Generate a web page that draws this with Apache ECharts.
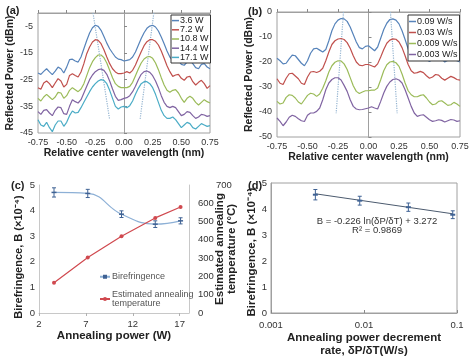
<!DOCTYPE html>
<html><head><meta charset="utf-8">
<script src="https://cdn.jsdelivr.net/npm/echarts@6/dist/echarts.min.js"></script>
<style>html,body{margin:0;padding:0;background:#fff}#c{width:474px;height:360px}</style>
</head><body><div id="c"></div>
<script>
// ---------- DATA ----------
const wl = [-0.75,-0.725,-0.7,-0.675,-0.65,-0.625,-0.6,-0.575,-0.55,-0.525,-0.5,-0.475,-0.45,-0.425,-0.4,-0.375,-0.35,-0.325,-0.3,-0.275,-0.25,-0.225,-0.2,-0.175,-0.15,-0.125,-0.1,-0.075,-0.05,-0.025,0,
 0.025,0.05,0.075,0.1,0.125,0.15,0.175,0.2,0.225,0.25,0.275,0.3,0.325,0.35,0.375,0.4,0.425,0.45,0.475,0.5,0.525,0.55,0.575,0.6,0.625,0.65,0.675,0.7,0.725,0.75];

// Panel (a): annealing power
const namesA = ['3.6 W','7.2 W','10.8 W','14.4 W','17.1 W'];
const a36 = [-22.5,-23,-21.9,-20.9,-22.1,-23.1,-21.8,-20.3,-20.9,-22.5,-20.3,-17.5,-17.3,-18,-18.4,-16.5,-13.4,-10.3,-7.5,-5.5,-4.6,-5,-6.5,-8.8,-11.3,-13.4,-15,-16.5,-17.3,-17.5,-18,
 -17.75,-17.5,-16.5,-14.6,-12.1,-9.6,-7.4,-5.75,-4.9,-4.6,-5.25,-6.75,-9,-11.5,-14.25,-16.5,-17.75,-17.5,-17.75,-19.25,-19.6,-18.4,-17.75,-19,-20.5,-20.9,-19.25,-19,-20.25,-20.9];
const a72 = [-28,-28.6,-26.25,-25.5,-26.5,-28,-26.25,-24.6,-25.5,-27.75,-26.75,-23.4,-22.75,-23.4,-24,-22.1,-19,-15.25,-12.75,-10.9,-10,-10.25,-11.5,-13.75,-16.5,-19,-20.9,-22.1,-22.75,-22.75,-22.5,
 -22,-22.5,-21.5,-19.5,-17,-14.5,-12.25,-10.75,-10,-10,-10.6,-12,-14.25,-17,-19.75,-22,-23.75,-23.25,-23,-24.5,-25.25,-24,-23.75,-25.75,-27,-26,-25.25,-26.5,-28.25,-27.25];
const a108 = [-32,-33,-31.5,-30.5,-31.5,-32.5,-31.5,-29.75,-30,-32,-31,-29,-28,-28.75,-29.5,-28.5,-26.5,-23.5,-20.5,-18.25,-16.75,-15.75,-15.75,-16.75,-18.75,-21.5,-24.25,-26.5,-27.5,-28,-28,
 -28,-27.5,-26,-23.5,-21,-18.75,-17.25,-16.5,-16.3,-17,-18.75,-21.25,-24.25,-27,-29,-29.75,-29,-28.75,-30,-32,-33.5,-32,-31.25,-32,-33.5,-34.5,-33.5,-32.5,-33.25,-33.75];
const a144 = [-37,-38,-36.5,-36.25,-37.5,-38.5,-36.5,-35.25,-35.5,-37.75,-38,-35,-32.5,-33.25,-33.75,-32.5,-30,-27.5,-25,-23.25,-22,-21.25,-21,-21.5,-23,-25.5,-28.5,-31.25,-32.75,-32.5,-32,
 -31.75,-31,-29.5,-27.5,-25,-23,-22,-21.75,-22.25,-23.5,-25.5,-28,-31,-33.5,-35,-35.5,-35,-35.5,-37,-38.5,-38,-37,-37.25,-38.5,-39.5,-39,-38,-38.25,-38.75,-38.5];
const a171 = [-40,-42,-42.5,-41,-43,-44.5,-42,-40.5,-40.5,-42.5,-41,-38.5,-36.75,-37.5,-37.25,-35.5,-33.5,-31.5,-29.5,-27.75,-26.5,-25.5,-25,-25.25,-26.5,-29,-32,-35,-36,-35.25,-35,
 -35.5,-34.75,-33,-30.5,-28.25,-26.5,-25.75,-25.75,-26.5,-28,-30.5,-33.5,-36.5,-38.5,-39.5,-39.5,-39,-40,-41.5,-43,-42,-41,-41.5,-43,-43.5,-42.5,-41.5,-42,-42.5,-42.25];
const traceA_left = [[-0.27, 0], [-0.125, -40]];
const traceA_right = [[0.26, 0], [0.14, -40]];

// Panel (b): annealing power decrement rate
const namesB = ['0.09 W/s','0.03 W/s','0.009 W/s','0.003 W/s'];
const b009 = [-18.5,-19.5,-20.75,-20.5,-18.75,-17.25,-17.5,-19,-20.5,-21.5,-19.5,-16.5,-14.75,-14.5,-15.25,-16,-15,-11.5,-7.5,-4.75,-3.25,-2.6,-2.75,-3.75,-6,-9,-12,-14.25,-14.75,-13.75,-13.5,
 -14.5,-15.5,-14,-10.5,-7,-4.5,-3,-2.75,-3.25,-4.75,-7.5,-11,-14.75,-17.25,-18.25,-17.75,-17,-17.5,-19,-19.75,-19,-17.75,-17.5,-18.75,-20,-19.25,-18,-18.25,-19.5,-20];
const b003 = [-26.7,-28.5,-29,-26.5,-24.7,-24.5,-25.6,-26.7,-28.5,-29,-26,-24,-23.8,-24.2,-23.7,-22.5,-19.5,-16,-13,-11.5,-10.8,-10.6,-11,-12.25,-14.5,-17.5,-20,-21.25,-21.5,-21,-21,
 -21.5,-22,-20.75,-18,-15,-12.5,-11.25,-10.75,-10.9,-12,-14.25,-17.5,-21,-23.5,-24.5,-24.25,-23.75,-24.25,-25.5,-26.5,-26,-25,-25.25,-26.5,-27.25,-26.5,-25.75,-26.25,-27,-27.25];
const b0009 = [-35.75,-36.8,-36.4,-34.15,-33.1,-33.35,-34.4,-36,-36.8,-35.1,-33.35,-32.5,-32.8,-33.75,-32.8,-30.5,-27.5,-24,-21.5,-20.1,-19.5,-19.6,-20.75,-23,-26.25,-29.5,-31.75,-32.6,-32,-31.5,-31.5,
 -31.25,-31.25,-30.4,-27.1,-23.5,-21.1,-20,-19.75,-20.3,-21.75,-24.8,-28.4,-31.5,-33.1,-33.9,-33.9,-33.35,-33.1,-34.4,-36,-37.1,-36.8,-35.75,-35.5,-36.4,-37.35,-37.1,-36.15,-36.8,-37.75];
const b0003 = [-42.4,-43.75,-45.5,-44,-42.1,-41.3,-41.75,-42.7,-43.5,-43.8,-41.3,-40.4,-40.4,-39.75,-38.4,-35.1,-31.1,-28.4,-27,-26.3,-26.3,-27.2,-29.35,-31.75,-35.1,-37.75,-38.8,-39.1,-39,-38.7,-38.4,
 -37.9,-38.4,-38.8,-35.75,-32.4,-29.75,-28,-27,-26.7,-27.2,-28.4,-31.1,-34.4,-37.75,-40.4,-41.75,-41.3,-41.1,-42.1,-43.1,-43.75,-43.5,-43.1,-43.35,-44,-43.5,-43,-43.2,-43.75,-43.5];
const traceB_left = [[-0.205, 0], [-0.265, -40.5]];
const traceB_right = [[0.18, 0], [0.235, -40.5]];

// Panel (c): birefringence and temperature vs annealing power
const powerC = [3.6, 7.2, 10.8, 14.4, 17.1];
const biref = [4.71, 4.67, 3.86, 3.47, 3.6];
const birefErr = [0.18, 0.16, 0.13, 0.13, 0.12];
const tempC = [165, 303, 420, 520, 580];

// Panel (d): birefringence vs decrement rate (log)
const rateD = [0.003, 0.009, 0.03, 0.09];
const birefD = [4.55, 4.32, 4.07, 3.78];
const birefDErr = [0.2, 0.17, 0.16, 0.15];
const trendX = [0.003, 0.09];
const trendY = [4.585, 3.816];

// ---------- CHART ----------
const FONT = 'Liberation Sans, Arial, sans-serif';
const colsA = ['#5683ba','#c0504d','#9bbb59','#8064a2','#4bacc6'];
const colsB = ['#5683ba','#c0504d','#9bbb59','#8064a2'];
const pairs = arr => wl.map((x, i) => [x, arr[i]]);
const lbl = {fontFamily: FONT, fontSize: 9, color: '#333'};
const ttl = {fontFamily: FONT, fontSize: 10.5, fontWeight: 'bold', color: '#222'};

function errRender(color) {
  return function (params, api) {
    const x = api.value(0), lo = api.value(1), hi = api.value(2);
    const p1 = api.coord([x, hi]), p2 = api.coord([x, lo]);
    const w = 2;
    const st = {stroke: color, lineWidth: 1};
    return {type: 'group', children: [
      {type: 'line', shape: {x1: p1[0], y1: p1[1], x2: p2[0], y2: p2[1]}, style: st},
      {type: 'line', shape: {x1: p1[0]-w, y1: p1[1], x2: p1[0]+w, y2: p1[1]}, style: st},
      {type: 'line', shape: {x1: p2[0]-w, y1: p2[1], x2: p2[0]+w, y2: p2[1]}, style: st}
    ]};
  };
}

const seriesA = [a36, a72, a108, a144, a171].map((d, i) => ({
  name: namesA[i], type: 'line', xAxisIndex: 0, yAxisIndex: 0, data: pairs(d),
  symbol: 'none', lineStyle: {width: 1.2, color: colsA[i]}, itemStyle: {color: colsA[i]}, z: 3
}));
const seriesB = [b009, b003, b0009, b0003].map((d, i) => ({
  name: namesB[i], type: 'line', xAxisIndex: 1, yAxisIndex: 1, data: pairs(d),
  symbol: 'none', lineStyle: {width: 1.2, color: colsB[i]}, itemStyle: {color: colsB[i]}, z: 3
}));
const dotted = (data, xi, yi) => ({type: 'line', xAxisIndex: xi, yAxisIndex: yi, data: data, symbol: 'none', silent: true,
  lineStyle: {type: 'dotted', width: 1.2, color: '#93b3d0'}, z: 2});

const birefColor = '#8db0d6', birefDark = '#3f6294', redC = '#d0494f';

const option = {
  animation: false,
  textStyle: {fontFamily: FONT},
  grid: [
    {left: 38, top: 13, width: 172, height: 120, show: true, borderColor: '#a0a0a0', borderWidth: 1},
    {left: 277, top: 12, width: 183, height: 125, show: true, borderColor: '#a0a0a0', borderWidth: 1},
    {left: 39, top: 185, width: 150, height: 128},
    {left: 271, top: 183, width: 186, height: 130, show: true, borderColor: '#a0a0a0', borderWidth: 1}
  ],
  xAxis: [
    {gridIndex: 0, type: 'value', min: -0.75, max: 0.75, interval: 0.25,
     axisLine: {lineStyle: {color: '#a0a0a0'}}, axisTick: {inside: true, length: 3, lineStyle: {color: '#888'}},
     axisLabel: Object.assign({margin: 5, formatter: v => v.toFixed(2)}, lbl), splitLine: {show: false},
     name: 'Relative center wavelength (nm)', nameLocation: 'middle', nameGap: 14, nameTextStyle: ttl},
    {gridIndex: 1, type: 'value', min: -0.75, max: 0.75, interval: 0.25,
     axisLine: {lineStyle: {color: '#a0a0a0'}}, axisTick: {inside: true, length: 3, lineStyle: {color: '#888'}},
     axisLabel: Object.assign({margin: 5, formatter: v => v.toFixed(2)}, lbl), splitLine: {show: false},
     name: 'Relative center wavelength (nm)', nameLocation: 'middle', nameGap: 14, nameTextStyle: ttl},
    {gridIndex: 2, type: 'value', min: 2, max: 18, interval: 5,
     axisLine: {lineStyle: {color: '#c8c8c8'}}, axisTick: {inside: false, length: 3, lineStyle: {color: '#b0b0b0'}},
     axisLabel: Object.assign({margin: 6, showMaxLabel: false}, lbl, {fontSize: 9.5}), splitLine: {show: false},
     name: 'Annealing power (W)', nameLocation: 'middle', nameGap: 15, nameTextStyle: Object.assign({}, ttl, {fontSize: 11.5})},
    {gridIndex: 3, type: 'log', logBase: 10, min: 0.001, max: 0.1,
     axisLine: {lineStyle: {color: '#a0a0a0'}}, axisTick: {inside: true, length: 3, lineStyle: {color: '#888'}},
     axisLabel: Object.assign({margin: 7, formatter: v => String(parseFloat(v.toPrecision(3)))}, lbl, {fontSize: 9.5}),
     splitLine: {show: false}, minorTick: {show: false},
     name: 'Annealing power decrement\nrate, δP/δT(W/s)', nameLocation: 'middle', nameGap: 13,
     nameTextStyle: Object.assign({}, ttl, {fontSize: 11.5, lineHeight: 13})}
  ],
  yAxis: [
    {gridIndex: 0, type: 'value', min: -45, max: 0, interval: 10,
     axisLine: {lineStyle: {color: '#a0a0a0'}}, axisTick: {inside: true, length: 3, lineStyle: {color: '#888'}},
     axisLabel: Object.assign({margin: 5, showMaxLabel: false}, lbl), splitLine: {show: false},
     name: 'Reflected Power (dBm)', nameLocation: 'middle', nameGap: 22, nameTextStyle: ttl},
    {gridIndex: 1, type: 'value', min: -50, max: 0, interval: 10,
     axisLine: {lineStyle: {color: '#a0a0a0'}}, axisTick: {inside: true, length: 3, lineStyle: {color: '#888'}},
     axisLabel: Object.assign({margin: 5}, lbl), splitLine: {show: false},
     name: 'Reflected Power (dBm)', nameLocation: 'middle', nameGap: 21, nameTextStyle: ttl},
    {gridIndex: 2, type: 'value', min: 0, max: 5, interval: 1,
     axisLine: {show: true, lineStyle: {color: '#c8c8c8'}}, axisTick: {show: false},
     axisLabel: Object.assign({margin: 4}, lbl, {fontSize: 9.5}), splitLine: {show: false},
     name: 'Birefringence, B (×10⁻⁴)', nameLocation: 'middle', nameGap: 15,
     nameTextStyle: Object.assign({}, ttl, {fontSize: 11, padding: [0, 16, 0, 0]})},
    {gridIndex: 2, type: 'value', min: 0, max: 700, interval: 100, position: 'right',
     axisLine: {show: true, lineStyle: {color: '#c8c8c8'}}, axisTick: {show: false},
     axisLabel: Object.assign({margin: 9, formatter: v => v === 700 ? '{s|700}' : String(v),
       rich: {s: {padding: [0, 0, 0, 18], fontSize: 9.5, color: '#333', fontFamily: FONT}}}, lbl, {fontSize: 9.5}),
     splitLine: {show: false},
     name: 'Estimated annealing\ntemperature (°C)', nameLocation: 'middle', nameGap: 25, nameMoveOverlap: false,
     nameTextStyle: Object.assign({}, ttl, {fontSize: 11.5, lineHeight: 12})},
    {gridIndex: 3, type: 'value', min: 0, max: 5, interval: 1,
     axisLine: {lineStyle: {color: '#a0a0a0'}}, axisTick: {show: false},
     axisLabel: Object.assign({margin: 4}, lbl, {fontSize: 9.5}), splitLine: {show: false},
     name: 'Birefringence, B (×10⁻⁴)', nameLocation: 'middle', nameGap: 12,
     nameTextStyle: Object.assign({}, ttl, {fontSize: 11.5, padding: [0, 8, 0, 0]})}
  ],
  legend: [
    {data: namesA, orient: 'vertical', left: 171, top: 15, icon: 'rect', itemWidth: 7, itemHeight: 1.5, itemGap: 0,
     backgroundColor: '#fff', borderColor: '#333', borderWidth: 1, padding: [1, 2, 1, 1],
     textStyle: {fontFamily: FONT, fontSize: 9, lineHeight: 9.2, color: '#222', padding: [0, 0, 0, -4]}},
    {data: namesB, orient: 'vertical', left: 408, top: 15, icon: 'rect', itemWidth: 7, itemHeight: 1.5, itemGap: 0,
     backgroundColor: '#fff', borderColor: '#333', borderWidth: 1, padding: [1, 2, 1, 1],
     textStyle: {fontFamily: FONT, fontSize: 9, lineHeight: 11, color: '#222', padding: [0, 0, 0, -4]}},
    {data: ['Birefringence', 'Estimated annealing\ntemperature'], orient: 'vertical', left: 99, top: 272,
     itemWidth: 10, itemHeight: 5, itemGap: 8, padding: 0,
     textStyle: {fontFamily: FONT, fontSize: 9, lineHeight: 9.5, color: '#555', padding: [0, 0, 0, -3]}}
  ],
  series: [].concat(
    [dotted(traceA_left, 0, 0), dotted(traceA_right, 0, 0), dotted(traceB_left, 1, 1), dotted(traceB_right, 1, 1)],
    seriesA, seriesB,
    [
      {name: 'Birefringence', type: 'line', xAxisIndex: 2, yAxisIndex: 2, smooth: 0.45,
       data: powerC.map((x, i) => [x, biref[i]]), symbol: 'rect', symbolSize: [5, 1.5],
       lineStyle: {width: 1.2, color: birefColor}, itemStyle: {color: birefDark}, z: 3},
      {type: 'custom', xAxisIndex: 2, yAxisIndex: 2, silent: true, renderItem: errRender(birefDark),
       data: powerC.map((x, i) => [x, biref[i] - birefErr[i], biref[i] + birefErr[i]]), z: 4},
      {name: 'Estimated annealing\ntemperature', type: 'line', xAxisIndex: 2, yAxisIndex: 3,
       data: powerC.map((x, i) => [x, tempC[i]]), symbol: 'circle', symbolSize: 4,
       lineStyle: {width: 1.2, color: redC}, itemStyle: {color: redC}, z: 3},
      {type: 'line', xAxisIndex: 3, yAxisIndex: 4, data: trendX.map((x, i) => [x, trendY[i]]), symbol: 'none',
       lineStyle: {width: 1, color: '#4b5a6e'}, silent: true, z: 2},
      {type: 'line', xAxisIndex: 3, yAxisIndex: 4, data: rateD.map((x, i) => [x, birefD[i]]), symbol: 'rect',
       symbolSize: [5, 2], lineStyle: {width: 0, opacity: 0}, itemStyle: {color: birefDark}, z: 4},
      {type: 'custom', xAxisIndex: 3, yAxisIndex: 4, silent: true, renderItem: errRender(birefDark),
       data: rateD.map((x, i) => [x, birefD[i] - birefDErr[i], birefD[i] + birefDErr[i]]), z: 4}
    ]
  ),
  graphic: [
    {type: 'text', left: 6, top: 5, style: {text: '(a)', font: 'bold 11px ' + FONT, fill: '#222'}},
    {type: 'text', left: 248, top: 6, style: {text: '(b)', font: 'bold 11px ' + FONT, fill: '#222'}},
    {type: 'text', left: 11, top: 180, style: {text: '(c)', font: 'bold 11px ' + FONT, fill: '#222'}},
    {type: 'text', left: 248, top: 180, style: {text: '(d)', font: 'bold 11px ' + FONT, fill: '#222'}},
    {type: 'text', x: 377, y: 221, style: {text: 'B = -0.226 ln(δP/δT) + 3.272', font: '9.5px ' + FONT, fill: '#333', align: 'center', verticalAlign: 'middle'}},
    {type: 'text', x: 377, y: 230, style: {text: 'R² = 0.9869', font: '9.5px ' + FONT, fill: '#333', align: 'center', verticalAlign: 'middle'}}
  ]
};

const chart = echarts.init(document.getElementById('c'), null, {renderer: 'canvas'});
chart.setOption(option);
</script>
</body></html>
